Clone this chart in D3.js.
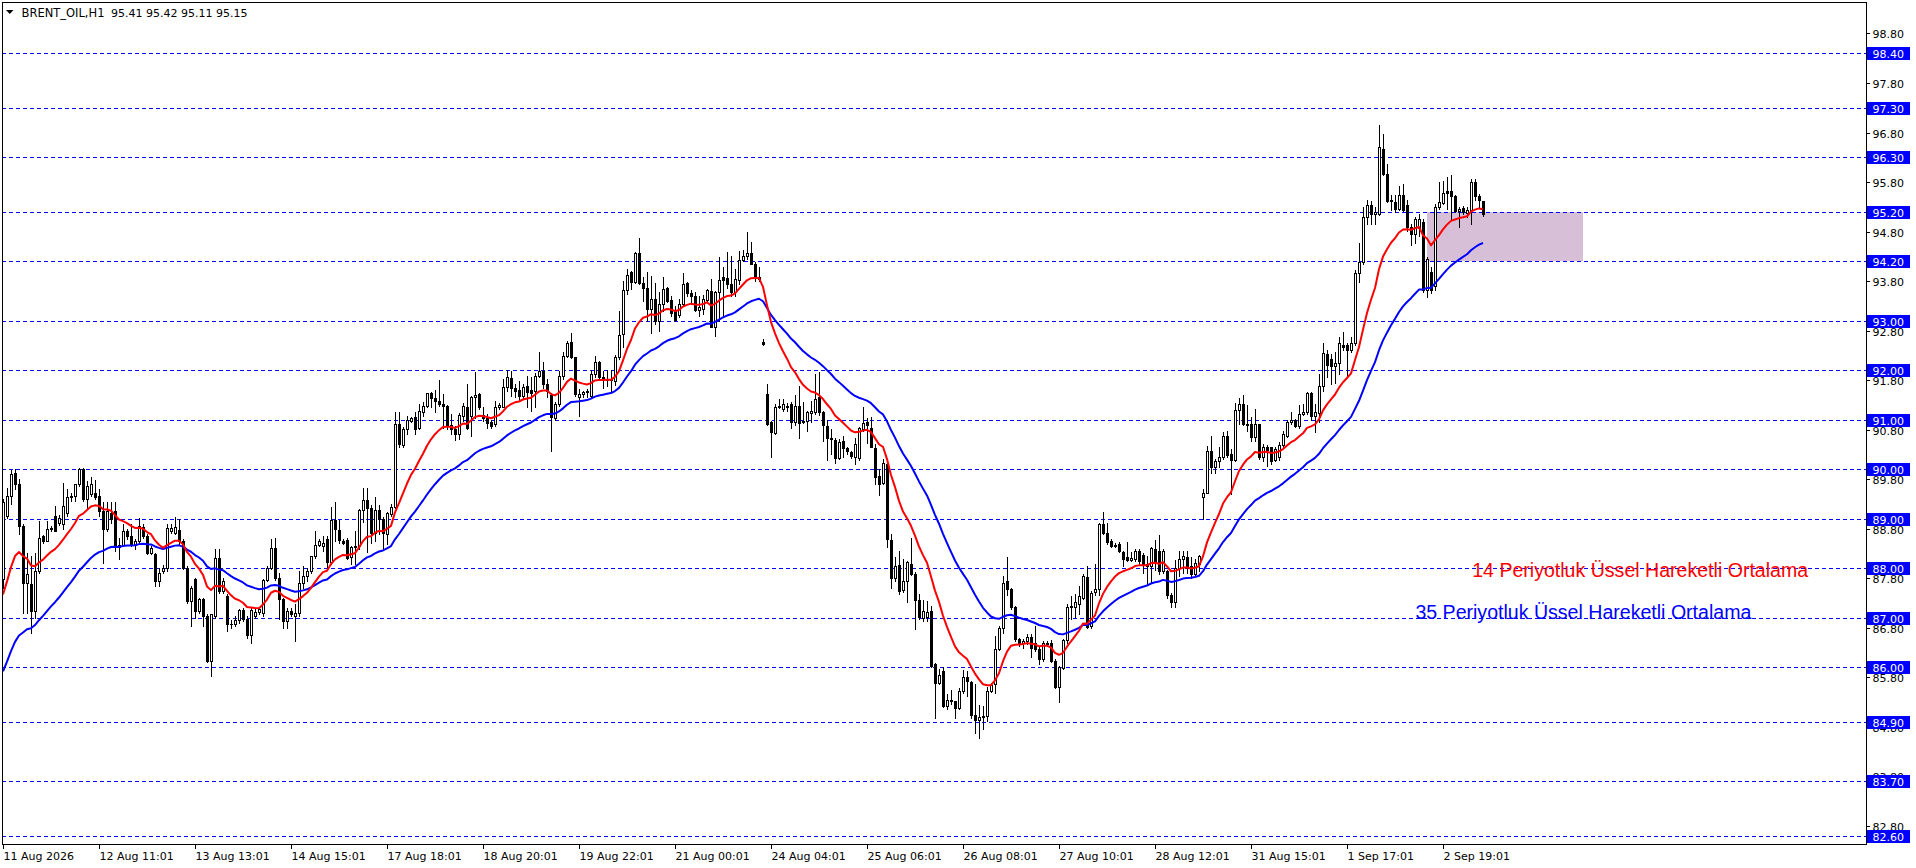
<!DOCTYPE html>
<html><head><meta charset="utf-8">
<script src="https://cdn.jsdelivr.net/npm/d3@7"></script>
<style>
html,body{margin:0;padding:0;background:#fff;overflow:hidden}
svg{display:block}
</style></head><body>
<svg id="chart" width="1916" height="868"></svg>
<script>
// ---------------- DATA ----------------
const symbolName = "BRENT_OIL,H1";
const lastQuote = "95.41 95.42 95.11 95.15";
const timeLabels = ["11 Aug 2026","12 Aug 11:01","13 Aug 13:01","14 Aug 15:01","17 Aug 18:01","18 Aug 20:01",
  "19 Aug 22:01","21 Aug 00:01","24 Aug 04:01","25 Aug 06:01","26 Aug 08:01","27 Aug 10:01","28 Aug 12:01",
  "31 Aug 15:01","1 Sep 17:01","2 Sep 19:01"];
const barsPerLabel = 24;
const priceTicks = [98.80,97.80,96.80,95.80,94.80,93.80,92.80,91.80,90.80,89.80,88.80,87.80,86.80,85.80,84.80,83.80,82.80];
const levels = [98.40,97.30,96.30,95.20,94.20,93.00,92.00,91.00,90.00,89.00,88.00,87.00,86.00,84.90,83.70,82.60];

const open = [
87.78,89.06,89.46,89.92,89.70,88.85,87.71,87.68,87.14,87.94,
88.65,88.55,88.79,89.05,88.92,88.89,89.12,89.43,89.46,89.70,
90.00,89.39,89.50,89.53,89.46,89.16,88.79,89.12,89.16,88.48,
88.48,88.75,88.65,88.48,88.55,88.83,88.65,88.31,88.28,87.74,
87.94,88.01,88.75,88.72,88.77,88.55,88.01,87.34,87.78,87.14,
87.37,87.04,86.13,87.04,88.21,87.54,87.45,86.88,86.88,86.95,
87.15,86.97,86.66,87.04,87.12,87.10,87.76,88.01,88.40,87.81,
87.37,86.93,87.14,87.04,87.10,87.71,87.84,87.94,88.25,88.47,
88.45,88.59,88.12,88.97,88.77,88.55,88.57,88.22,88.42,88.45,
89.17,89.38,89.22,88.72,89.17,88.99,88.69,89.09,89.24,90.91,
90.49,90.81,90.98,91.06,90.83,91.15,91.28,91.53,91.44,91.38,
91.32,91.28,90.90,90.81,90.71,91.08,91.26,91.08,91.45,91.52,
91.10,91.03,90.95,90.91,91.25,91.26,91.67,91.84,91.65,91.60,
91.48,91.69,91.60,91.59,91.89,91.99,91.73,91.50,91.03,91.32,
91.89,92.29,92.56,92.26,91.46,91.52,91.57,91.48,91.92,92.16,
91.86,91.80,91.82,91.79,92.26,
92.73,93.61,93.98,93.79,94.36,93.77,93.66,93.24,93.44,93.00,
93.34,93.67,93.42,93.20,93.12,93.34,93.77,93.55,93.50,93.22,
93.24,93.42,93.59,92.88,93.57,93.89,93.86,93.74,93.57,93.82,
94.23,94.30,94.37,94.14,93.89,92.58,91.52,90.95,90.74,91.26,
91.22,91.28,91.32,90.95,91.28,90.98,90.98,91.13,91.15,91.45,
91.15,90.88,90.64,90.59,90.23,90.58,90.43,90.34,90.25,90.23,
90.81,90.95,90.83,90.43,89.87,89.73,90.10,88.57,87.80,88.07,
87.56,87.75,88.08,87.88,87.36,
87.00,87.02,87.14,86.06,85.69,85.92,85.22,85.35,85.33,85.17,
85.52,85.80,85.71,85.04,84.93,85.00,85.02,85.52,85.66,86.38,
86.80,87.74,87.58,87.21,86.57,86.50,86.53,86.61,86.50,86.38,
86.16,86.50,86.50,86.13,85.60,85.98,86.55,87.22,87.22,87.27,
87.41,87.83,86.84,87.53,87.58,88.90,88.72,88.55,88.45,88.50,
88.32,88.22,88.16,88.18,88.35,88.27,88.08,88.05,88.38,88.35,
87.95,87.95,87.47,87.31,88.00,88.18,88.23,88.05,87.88,88.08,
89.43,89.53,90.36,90.04,90.16,
90.25,90.68,90.31,90.18,91.20,91.32,90.92,90.91,90.66,90.92,
90.25,90.45,90.44,90.18,90.25,90.48,90.68,90.95,91.00,90.87,
91.11,91.16,91.54,91.07,91.14,91.69,92.33,92.23,92.08,92.14,
92.50,92.50,92.40,92.54,93.96,94.18,95.10,95.34,95.16,95.15,
96.47,95.96,95.44,95.40,95.26,95.53,95.33,94.89,94.76,94.88,
94.99,93.63,93.98,93.70,95.30,95.38,95.62,95.61,95.51,95.22,
95.28,95.17,95.23,95.80,95.51,95.41];

const high = [
89.40,89.63,89.98,90.00,89.80,88.89,88.31,88.25,88.31,88.95,
88.68,88.95,88.85,89.26,89.08,89.73,89.60,89.52,89.70,90.03,
90.03,89.76,89.85,89.78,89.60,89.33,89.33,89.33,89.33,88.62,
88.89,88.80,88.89,88.60,89.02,88.89,88.69,88.45,88.31,88.01,
88.07,88.89,88.89,89.03,88.99,88.60,88.05,87.64,87.81,87.40,
87.40,87.07,87.07,88.38,88.38,87.80,87.48,86.95,87.04,87.18,
87.20,87.04,87.20,87.18,87.22,87.78,88.05,88.60,88.62,87.91,
87.40,87.20,87.20,87.27,87.94,88.05,88.00,88.25,88.75,88.60,
88.66,88.66,89.23,89.33,88.97,88.59,88.62,88.45,88.76,89.20,
89.63,89.63,89.28,89.44,89.28,89.03,89.13,89.30,91.15,91.15,
90.86,91.08,91.06,91.15,91.32,91.35,91.55,91.57,91.60,91.80,
91.52,91.30,91.11,90.88,91.13,91.33,91.73,91.48,91.96,91.53,
91.25,91.11,90.99,91.38,91.34,91.82,92.00,91.98,91.73,91.79,
91.73,91.89,91.87,91.94,92.36,92.16,91.82,91.55,91.35,91.99,
92.36,92.60,92.76,92.27,91.62,91.59,91.62,92.00,92.29,92.19,
91.99,92.00,92.00,92.31,93.19,
93.81,94.04,94.01,94.38,94.68,93.88,93.98,93.91,93.77,93.57,
93.89,93.69,93.50,93.30,93.44,93.96,93.79,93.62,93.57,93.50,
93.52,93.64,93.84,93.59,94.29,94.09,94.38,94.31,94.04,94.40,
94.43,94.80,94.58,94.18,94.09,92.64,91.73,90.98,91.32,91.42,
91.42,91.33,91.35,91.50,91.69,91.35,91.18,91.37,91.92,91.96,
91.18,90.99,90.81,90.64,90.61,90.68,90.44,90.37,90.63,90.86,
91.25,91.03,91.05,90.51,90.00,90.21,90.12,88.69,88.22,88.34,
88.19,88.14,88.62,87.92,87.48,
87.35,87.34,87.24,86.08,85.96,86.00,85.46,85.54,85.33,85.58,
85.94,85.93,85.73,85.67,85.24,85.22,85.60,85.69,86.63,86.84,
87.85,88.22,87.61,87.24,86.60,86.57,86.67,86.67,86.84,86.43,
86.53,86.53,86.55,86.16,86.03,86.57,87.27,87.44,87.48,87.64,
87.88,88.05,87.54,88.08,88.92,89.13,88.92,88.59,88.52,88.54,
88.35,88.54,88.32,88.38,88.38,88.30,88.25,88.43,88.57,88.67,
88.38,87.96,87.51,88.16,88.35,88.35,88.35,88.22,88.18,88.27,
89.60,90.47,90.67,90.20,90.44,
90.75,90.78,90.41,91.34,91.44,91.49,91.29,91.05,91.22,90.92,
90.51,90.48,90.45,90.44,90.55,90.77,90.99,91.16,91.02,91.29,
91.32,91.56,91.56,91.32,91.93,92.54,92.41,92.33,92.37,92.67,
92.77,92.54,92.67,94.02,94.57,95.30,95.43,95.42,95.30,96.95,
96.78,96.17,95.53,95.53,95.73,95.77,95.43,94.96,95.10,95.16,
95.06,94.29,94.08,95.35,95.80,95.82,95.90,95.94,95.53,95.30,
95.31,95.30,95.87,95.87,95.55,95.42];

const low = [
87.60,89.02,89.29,89.60,88.69,87.10,87.10,86.70,87.00,87.90,
88.52,88.55,88.75,88.75,88.88,88.79,89.06,89.36,89.36,89.66,
89.36,89.22,89.45,89.39,89.06,88.11,88.75,88.92,88.35,88.18,
88.45,88.60,88.45,88.38,88.52,88.62,88.28,88.28,87.64,87.64,
87.91,87.94,88.72,88.69,88.50,87.98,87.30,86.83,87.00,87.10,
86.83,86.10,85.82,87.00,87.51,87.50,86.73,86.80,86.83,86.90,
86.93,86.60,86.50,87.00,87.07,87.04,87.74,87.98,87.77,86.97,
86.80,86.80,87.04,86.53,87.04,87.61,87.75,87.91,88.21,88.45,
88.35,87.98,88.08,88.55,88.52,88.49,88.19,88.08,88.08,88.39,
88.93,88.32,88.52,88.55,88.69,88.39,88.49,89.05,89.22,90.44,
90.45,90.71,90.95,90.71,90.81,91.08,91.26,91.25,91.15,91.28,
90.84,90.81,90.71,90.59,90.61,90.98,90.81,90.68,91.03,91.22,
90.98,90.84,90.84,90.88,91.22,91.25,91.59,91.48,91.45,91.38,
91.42,91.25,91.17,91.25,91.86,91.65,91.45,90.37,90.99,91.28,
91.82,92.26,92.25,91.48,91.08,91.45,91.45,91.46,91.86,91.80,
91.64,91.69,91.59,91.71,92.23,
92.46,93.54,93.64,93.77,93.74,93.40,93.00,92.76,92.93,92.80,
93.20,93.37,93.10,93.00,93.07,93.30,93.50,93.34,93.19,93.10,
93.13,93.37,92.87,92.70,93.00,93.07,93.67,93.50,93.50,93.74,
94.21,94.25,94.14,93.81,93.81,92.50,90.90,90.25,90.71,91.24,
91.18,91.18,90.84,90.90,90.63,90.93,90.78,90.95,91.11,91.10,
90.58,90.18,90.31,90.12,90.21,90.24,90.31,90.23,90.10,90.18,
90.78,90.54,90.44,89.70,89.48,89.70,88.42,87.61,87.75,87.49,
87.53,87.31,87.87,86.77,86.97,
86.94,86.94,86.00,84.98,85.66,85.19,85.15,85.25,84.97,85.15,
85.49,85.42,84.98,84.68,84.58,84.75,84.92,85.50,85.49,86.36,
86.70,87.47,87.17,86.53,86.43,86.40,86.47,86.21,86.33,86.06,
86.13,86.43,86.10,85.59,85.29,85.96,86.50,86.97,87.02,87.07,
87.37,86.80,86.80,87.47,87.47,88.69,88.49,88.43,88.42,88.32,
88.05,88.15,88.15,88.15,88.08,87.91,87.68,87.71,87.96,87.88,
87.91,87.41,87.22,87.22,87.85,87.91,87.91,87.81,87.85,87.95,
88.99,89.52,89.93,89.93,90.04,
90.21,90.25,89.51,90.17,90.92,90.89,90.78,90.58,90.58,90.21,
90.17,90.06,90.11,90.17,90.18,90.45,90.65,90.92,90.85,90.84,
91.09,91.12,90.99,90.75,90.95,91.59,91.86,91.73,91.74,91.93,
92.40,91.86,92.37,92.50,93.78,94.15,94.96,94.96,94.96,95.13,
95.94,95.40,95.23,95.20,95.24,95.22,94.82,94.52,94.56,94.72,
93.58,93.48,93.56,93.63,95.26,95.36,95.26,95.06,95.20,94.89,
95.16,95.10,94.96,95.43,95.30,95.11];

const close = [
89.33,89.46,89.90,89.70,88.85,87.71,87.88,87.14,87.94,88.62,
88.55,88.79,88.82,88.75,89.02,89.26,89.43,89.46,89.70,90.00,
89.39,89.66,89.70,89.43,89.16,88.79,89.16,88.99,88.48,88.42,
88.75,88.65,88.48,88.55,88.85,88.65,88.31,88.41,87.74,87.91,
88.01,88.82,88.82,88.83,88.55,88.01,87.34,87.61,87.14,87.37,
87.04,86.13,87.07,88.21,87.54,87.74,86.88,86.87,86.95,87.15,
86.97,86.66,87.15,87.12,87.18,87.76,88.01,88.40,87.81,87.37,
86.93,87.14,87.08,87.10,87.71,87.84,87.94,88.25,88.47,88.55,
88.52,88.12,88.97,88.79,88.57,88.52,88.21,88.42,88.45,89.17,
89.38,89.22,88.72,89.17,88.99,88.72,89.11,89.24,90.91,90.52,
90.81,90.99,91.03,90.81,91.17,91.28,91.53,91.44,91.38,91.32,
91.28,90.90,90.81,90.71,91.10,91.28,90.84,91.45,91.50,91.25,
91.03,90.93,90.87,91.26,91.30,91.67,91.87,91.65,91.59,91.48,
91.67,91.57,91.55,91.89,91.99,91.72,91.59,91.05,91.32,91.89,
92.29,92.55,92.26,91.52,91.52,91.57,91.59,91.92,92.16,91.86,
91.80,91.82,91.81,92.27,92.72,
93.61,93.93,93.79,94.36,93.77,93.66,93.24,93.44,93.00,93.34,
93.64,93.40,93.15,93.01,93.34,93.74,93.55,93.50,93.22,93.27,
93.44,93.61,92.87,93.57,93.82,93.82,93.74,93.57,93.84,94.23,
94.31,94.37,94.14,93.89,93.84,92.53,90.91,90.76,91.25,91.28,
91.32,91.25,90.95,91.28,90.93,90.95,91.15,91.18,91.42,91.15,
90.90,90.63,90.61,90.23,90.56,90.43,90.36,90.27,90.51,90.83,
90.93,90.90,90.44,89.85,89.70,90.12,88.59,87.80,88.05,87.55,
87.75,88.12,87.88,87.36,87.01,
87.14,87.12,86.03,85.69,85.84,85.22,85.35,85.32,85.17,85.52,
85.80,85.73,85.04,84.93,85.00,85.02,85.52,85.64,86.38,86.80,
87.71,87.58,87.21,86.57,86.50,86.53,86.61,86.40,86.38,86.16,
86.50,86.47,86.13,85.60,86.01,86.55,87.22,87.24,87.31,87.44,
87.85,86.82,87.51,87.59,88.90,88.72,88.54,88.45,88.48,88.35,
88.18,88.16,88.20,88.34,88.15,88.08,88.05,88.40,88.15,87.95,
88.35,87.47,87.31,88.00,88.18,88.25,88.01,87.88,88.10,88.25,
89.53,90.36,90.04,90.17,90.25,
90.68,90.28,90.18,91.20,91.31,90.92,90.89,90.66,90.92,90.25,
90.45,90.38,90.17,90.41,90.48,90.72,90.95,90.99,90.87,91.11,
91.16,91.54,91.07,91.16,91.69,92.35,92.10,92.08,92.14,92.54,
92.47,92.40,92.54,93.96,94.18,95.10,95.34,95.16,95.20,96.50,
95.96,95.42,95.42,95.26,95.53,95.23,94.89,94.76,95.06,95.06,
93.63,94.25,93.63,95.30,95.40,95.58,95.57,95.51,95.22,95.26,
95.20,95.24,95.80,95.51,95.43,95.15];

// moving-average settings (values of the EMAs at the first visible bar)
const emaFastPeriod = 14, emaFastStart = 87.47;
const emaSlowPeriod = 35, emaSlowStart = 85.92;

// shaded zone (bar index range and price range)
const zoneBars = [356, 395];
const zonePrices = [94.20, 95.20];

// text notes
const noteTexts = ["14 Periyotluk Üssel Hareketli Ortalama", "35 Periyotluk Üssel Hareketli Ortalama"];
const noteBars = [367.3, 353.1];
const notePrices = [87.83, 86.97];
const noteColors = ["#ff0000", "#0000ff"];
const noteWidth = 336;

// ---------------- LAYOUT ----------------
const W = 1916, H = 868;
const plotL = 2, plotR = 1866, plotT = 2, plotB = 844;
const svg = d3.select("#chart");
const n = close.length;

const x = d3.scaleLinear().domain([0, 370]).range([3, 1483]);
const y = d3.scaleLinear().domain([82.60, 98.40]).range([835.7, 53.3]);
const px = v => Math.round(x(v));
const py = v => Math.round(y(v));

function ema(vals, period, start) {
  const k = 2 / (period + 1);
  let e = start;
  return vals.map((v, i) => { if (i > 0) e = e + k * (v - e); return e; });
}
const emaFast = ema(close, emaFastPeriod, emaFastStart);
const emaSlow = ema(close, emaSlowPeriod, emaSlowStart);

svg.append("rect").attr("width", W).attr("height", H).attr("fill", "#fff");

svg.append("defs").append("clipPath").attr("id", "plotclip")
  .append("rect").attr("x", plotL + 1).attr("y", plotT + 1)
  .attr("width", plotR - plotL - 1).attr("height", plotB - plotT - 1);

const plot = svg.append("g").attr("clip-path", "url(#plotclip)");

// zone
plot.append("rect")
  .attr("x", px(zoneBars[0])).attr("width", px(zoneBars[1]) - px(zoneBars[0]))
  .attr("y", py(zonePrices[1])).attr("height", py(zonePrices[0]) - py(zonePrices[1]))
  .attr("fill", "#d8bfd8");

// level lines
plot.append("g").selectAll("line").data(levels).join("line")
  .attr("x1", plotL).attr("x2", plotR)
  .attr("y1", d => py(d) + 0.5).attr("y2", d => py(d) + 0.5)
  .attr("stroke", "#0000ff").attr("stroke-width", 1).attr("stroke-dasharray", "4,3")
  .attr("shape-rendering", "crispEdges");

// candles
const idx = d3.range(n);
const cg = plot.append("g").attr("shape-rendering", "crispEdges");
cg.selectAll("line.wick").data(idx).join("line").attr("class", "wick")
  .attr("x1", i => px(i) + 0.5).attr("x2", i => px(i) + 0.5)
  .attr("y1", i => py(high[i])).attr("y2", i => py(low[i]) + 1)
  .attr("stroke", "#000").attr("stroke-width", 1);

idx.forEach(i => {
  const c = px(i);
  const yTop = py(Math.max(open[i], close[i]));
  const yBot = py(Math.min(open[i], close[i]));
  const h = yBot - yTop;
  if (close[i] > open[i] && h >= 2) {
    cg.append("rect").attr("x", c - 0.5).attr("y", yTop + 0.5)
      .attr("width", 2).attr("height", h)
      .attr("fill", "#fff").attr("stroke", "#000").attr("stroke-width", 1);
  } else {
    cg.append("rect").attr("x", c - 1).attr("y", yTop)
      .attr("width", 3).attr("height", Math.max(1, h + 1))
      .attr("fill", "#000");
  }
});

// EMA lines
const line = d3.line().x((d, i) => x(i)).y(d => y(d));
plot.append("path").datum(emaSlow).attr("d", line)
  .attr("fill", "none").attr("stroke", "#0000ff").attr("stroke-width", 2).attr("stroke-linejoin", "round");
plot.append("path").datum(emaFast).attr("d", line)
  .attr("fill", "none").attr("stroke", "#ff0000").attr("stroke-width", 2).attr("stroke-linejoin", "round");

// notes (font size fitted to the reference text width)
const notes = plot.append("g").selectAll("text").data(noteTexts).join("text")
  .attr("x", (d, i) => x(noteBars[i])).attr("y", (d, i) => y(notePrices[i]))
  .attr("fill", (d, i) => noteColors[i])
  .attr("font-family", "'Liberation Sans', Arimo, Arial, Helvetica, sans-serif").attr("font-size", "19.5px")
  .text(d => d);
notes.each(function () {
  const w = this.getComputedTextLength();
  if (w > 0) d3.select(this).attr("font-size", (19.5 * noteWidth / w).toFixed(2) + "px");
});

// frame
svg.append("rect").attr("x", plotL + 0.5).attr("y", plotT + 0.5)
  .attr("width", plotR - plotL).attr("height", plotB - plotT)
  .attr("fill", "none").attr("stroke", "#000").attr("stroke-width", 1)
  .attr("shape-rendering", "crispEdges");

const axisFont = "'DejaVu Sans', sans-serif";

// right axis ticks + labels
const ra = svg.append("g");
ra.selectAll("line").data(priceTicks).join("line")
  .attr("x1", plotR).attr("x2", plotR + 4)
  .attr("y1", d => py(d) + 0.5).attr("y2", d => py(d) + 0.5)
  .attr("stroke", "#000").attr("shape-rendering", "crispEdges");
ra.selectAll("text").data(priceTicks).join("text")
  .attr("x", plotR + 6.5).attr("y", d => py(d) + 4.5)
  .attr("font-family", axisFont).attr("font-size", "11px").attr("fill", "#000")
  .text(d => d3.format(".2f")(d));

// level price boxes
const lb = svg.append("g");
lb.selectAll("rect").data(levels).join("rect")
  .attr("x", plotR + 1).attr("width", 43)
  .attr("y", d => py(d) - 6).attr("height", 13)
  .attr("fill", "#0000ff").attr("shape-rendering", "crispEdges");
lb.selectAll("text").data(levels).join("text")
  .attr("x", plotR + 6.5).attr("y", d => py(d) + 4.5)
  .attr("font-family", axisFont).attr("font-size", "11px").attr("fill", "#fff")
  .text(d => d3.format(".2f")(d));

// bottom time axis
const tb = svg.append("g");
const tickIdx = timeLabels.map((t, k) => k * barsPerLabel);
tb.selectAll("line").data(tickIdx).join("line")
  .attr("x1", i => px(i) + 0.5).attr("x2", i => px(i) + 0.5)
  .attr("y1", plotB).attr("y2", plotB + 5)
  .attr("stroke", "#000").attr("shape-rendering", "crispEdges");
tb.selectAll("text").data(timeLabels).join("text")
  .attr("x", (d, k) => px(tickIdx[k]) + 0.5).attr("y", 860)
  .attr("font-family", axisFont).attr("font-size", "11px").attr("fill", "#000")
  .text(d => d);

// title
svg.append("path").attr("d", "M6,10 L13.5,10 L9.75,14 Z").attr("fill", "#000");
svg.append("text").attr("x", 21.5).attr("y", 17)
  .attr("font-family", axisFont).attr("font-size", "11.5px").attr("fill", "#000").text(symbolName);
svg.append("text").attr("x", 111).attr("y", 17)
  .attr("font-family", axisFont).attr("font-size", "11px").attr("fill", "#000").text(lastQuote);
</script>
</body></html>
